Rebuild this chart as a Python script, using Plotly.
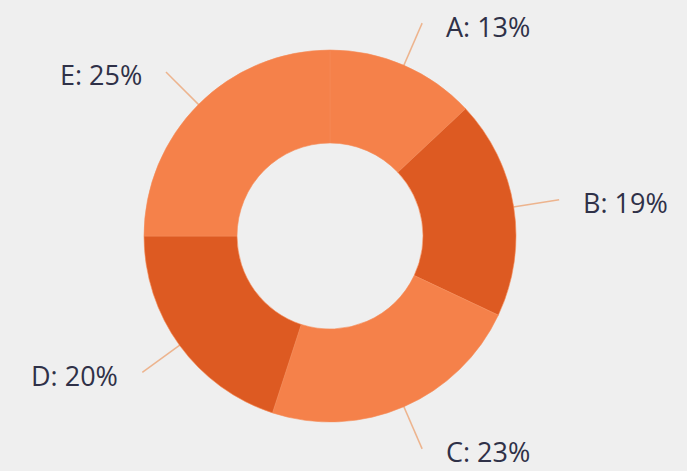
import math
import plotly.graph_objects as go

# Slice data
labels = ["A", "B", "C", "D", "E"]
values = [13, 19, 23, 20, 25]
colors = ["#F5814A", "#DD5A22", "#F5814A", "#DD5A22", "#F5814A"]

W, H = 687, 471
CX, CY, R = 330, 236, 186          # pie centre and outer radius in pixels
HOLE = 0.5

fig = go.Figure()

fig.add_trace(go.Pie(
    labels=labels,
    values=values,
    sort=False,
    direction="clockwise",
    rotation=0,
    hole=HOLE,
    marker=dict(colors=colors, line=dict(color="#F58B58", width=0.6)),
    textinfo="none",
    hoverinfo="label+percent",
    showlegend=False,
    domain=dict(x=[(CX - R) / W, (CX + R) / W],
                y=[1 - (CY + R) / H, 1 - (CY - R) / H]),
))

# Leader lines and labels placed at each slice's mid-angle
total = sum(values)
cum = 0
lx, ly = [], []
annotations = []
for lab, v in zip(labels, values):
    mid = (cum + v / 2) / total * 2 * math.pi   # clockwise from 12 o'clock
    cum += v
    s, c = math.sin(mid), math.cos(mid)
    r0, r1 = R - 2, R + 46
    x0, y0 = CX + r0 * s, CY - r0 * c
    x1, y1 = CX + r1 * s, CY - r1 * c
    lx += [x0, x1, None]
    ly += [y0, y1, None]
    right = s >= 0
    annotations.append(dict(
        x=x1 + (22 if right else -22), y=y1 + 3,
        xref="x", yref="y",
        text=f"{lab}: {round(v / total * 100)}%",
        showarrow=False,
        xanchor="left" if right else "right",
        yanchor="middle",
        font=dict(family="Open Sans", size=27, color="#2F3148"),
    ))

fig.add_trace(go.Scatter(
    x=lx, y=ly, mode="lines",
    line=dict(color="#EDB48E", width=1.5),
    hoverinfo="skip", showlegend=False,
))

fig.update_layout(
    width=W, height=H,
    margin=dict(l=0, r=0, t=0, b=0),
    paper_bgcolor="#EFEFEF",
    plot_bgcolor="rgba(0,0,0,0)",
    xaxis=dict(range=[0, W], visible=False, fixedrange=True),
    yaxis=dict(range=[H, 0], visible=False, fixedrange=True),
    annotations=annotations,
)

fig.write_html("out.html")
